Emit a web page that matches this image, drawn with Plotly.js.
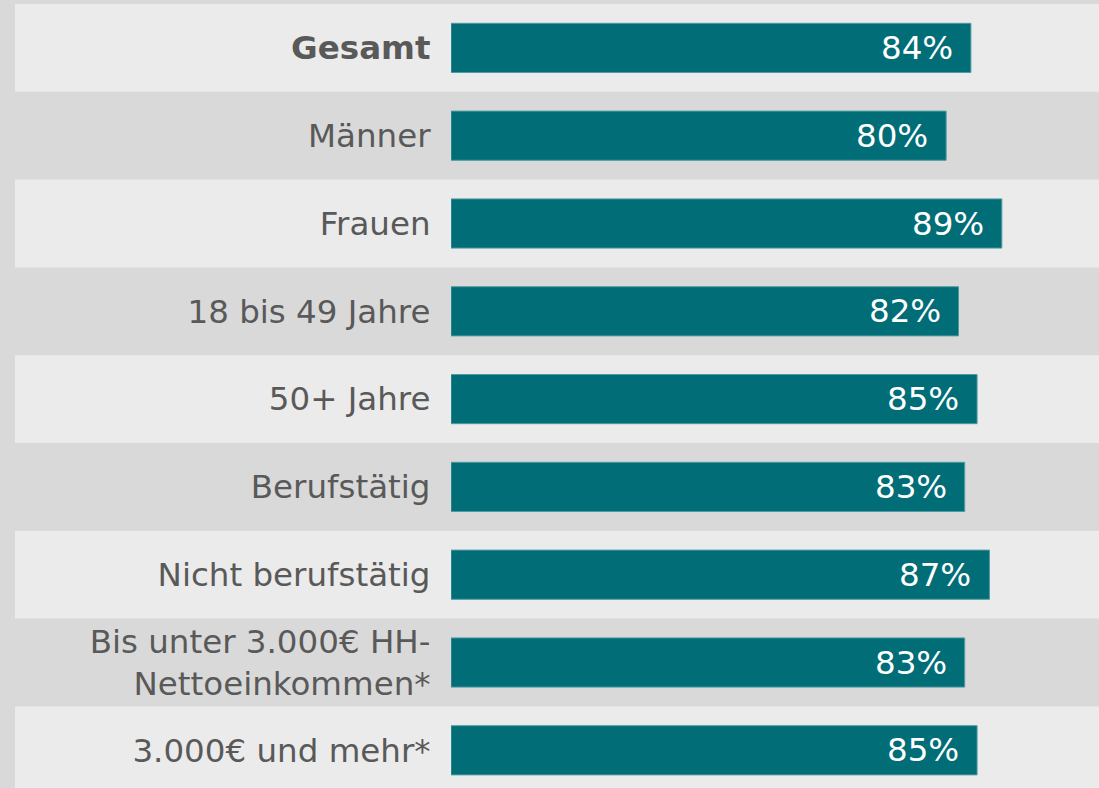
<!DOCTYPE html>
<html>
<head>
<meta charset="utf-8">
<script src="https://cdn.plot.ly/plotly-3.0.1.min.js"></script>
<style>html,body{margin:0;padding:0;background:#d9d9d9;}#chart{width:1099px;height:788px;}</style>
</head>
<body>
<div id="chart"></div>
<script>
var categories = ["Gesamt","Männer","Frauen","18 bis 49 Jahre","50+ Jahre","Berufstätig","Nicht berufstätig","Bis unter 3.000€ HH-Nettoeinkommen*","3.000€ und mehr*"];
var tickLabels = ["<b>Gesamt</b>","Männer","Frauen","18 bis 49 Jahre","50+ Jahre","Berufstätig","Nicht berufstätig","Bis unter 3.000€ HH-<br>Nettoeinkommen*","3.000€ und mehr*"];
var values = [84,80,89,82,85,83,87,83,85];

var rowH = 87.8, plotH = 784;
var shapes = [];
categories.forEach(function(c,i){
  if (i % 2 === 0) {
    shapes.push({type:'rect', layer:'below', xref:'paper', yref:'y',
      x0:(15-451)/648, x1:1, y0:i-0.5, y1:i+0.5,
      fillcolor:'#ebebeb', line:{width:0}});
  }
});
var annotations = categories.map(function(c,i){
  return {x:values[i], y:c, xref:'x', yref:'y', text:values[i]+'%', showarrow:false,
    xanchor:'right', xshift:-16, yanchor:'middle',
    font:{family:'DejaVu Sans', size:32.5, color:'#ffffff'}};
});

var trace = {type:'bar', orientation:'h', x:values, y:categories, width:0.56,
  marker:{color:'#006d77', line:{color:'#4f9aa1', width:1}}, hoverinfo:'none'};

var layout = {
  width:1099, height:788,
  margin:{l:451, r:0, t:4, b:0, pad:0},
  paper_bgcolor:'#d9d9d9', plot_bgcolor:'rgba(0,0,0,0)',
  showlegend:false,
  xaxis:{range:[0,104.7], visible:false, showgrid:false, zeroline:false, fixedrange:true},
  yaxis:{type:'category', range:[-0.5 + plotH/rowH, -0.5], tickmode:'array',
    tickvals:categories, ticktext:tickLabels, ticks:'outside', ticklen:13,
    tickcolor:'rgba(0,0,0,0)', showgrid:false, zeroline:false, showline:false,
    tickfont:{family:'DejaVu Sans', size:32.5, color:'#595959'}, fixedrange:true},
  shapes:shapes, annotations:annotations
};
Plotly.newPlot('chart',[trace],layout,{displayModeBar:false, staticPlot:true});
</script>
</body>
</html>
